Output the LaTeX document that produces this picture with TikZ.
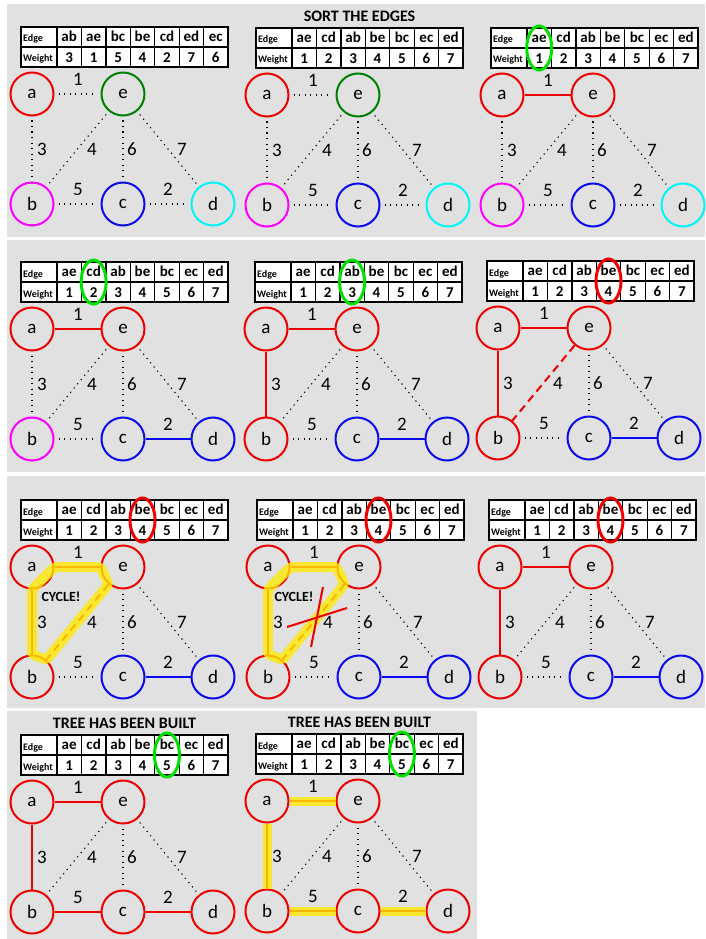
\documentclass[tikz,border=0pt]{standalone}
\usepackage{fontspec}
\setmainfont{Carlito}
\definecolor{cred}{RGB}{238,0,0}
\definecolor{cgreen}{RGB}{0,128,0}
\definecolor{cmag}{RGB}{255,0,255}
\definecolor{cblue}{RGB}{10,10,240}
\definecolor{ccyan}{RGB}{0,245,245}
\definecolor{selgreen}{RGB}{0,225,0}
\definecolor{bggray}{RGB}{225,225,225}
\definecolor{hlyel}{RGB}{255,235,0}
\newcommand{\mkgraph}[7]{%
 \begin{scope}[shift={(#2)}]
  \node[vtx,draw=#3] (#1a) at (32,94) {a};
  \node[vtx,draw=#4] (#1e) at (123,94) {e};
  \node[vtx,draw=#5] (#1b) at (32,204) {b};
  \node[vtx,draw=#6] (#1c) at (123,204) {c};
  \node[vtx,draw=#7] (#1d) at (213,204) {d};
  \node[wlbl] (#1w1) at (78,79) {1};
  \node[wlbl] (#1w3) at (42,149) {3};
  \node[wlbl] (#1w4) at (92,149) {4};
  \node[wlbl] (#1w6) at (132,149) {6};
  \node[wlbl] (#1w7) at (182,149) {7};
  \node[wlbl] (#1w5) at (78,189) {5};
  \node[wlbl] (#1w2) at (168,189) {2};
 \end{scope}}
\newcommand{\mktab}[4]{%
 \begin{scope}[shift={(#2)}]
  \fill[white] (21,27) rectangle (228,67);
  \draw[tabline] (21,27) rectangle (228,67);
  \draw[tabline] (21,47) -- (228,47);
  \foreach \i in {0,...,6} {\draw[tabline] ({57+24.43*\i},27) -- ({57+24.43*\i},67);}
  \node[tabhead] (#1h0) at (23,42) {Edge};
  \node[tabhead] (#1w0) at (23,62) {Weight};
  \foreach \e [count=\i] in {#3} {\node[tabtxt] (#1h\i) at ({57+24.43*(\i-0.5)},41.5) {\e};}
  \foreach \e [count=\i] in {#4} {\node[tabtxt] (#1w\i) at ({57+24.43*(\i-0.5)},62.5) {\e};}
 \end{scope}}
\newcommand{\dotE}[2]{\foreach \u/\v in {#2} {\draw[dotedge] (#1\u) -- (#1\v);}}
\newcommand{\selcol}[3]{%
 \begin{scope}[shift={(#1)}]
  \draw[line width=3pt,draw=#3] ({57+24.43*(#2-0.5)},47) ellipse [x radius=12.5pt, y radius=22pt];
 \end{scope}}
\newcommand{\mkcycle}[1]{%
 \draw[cycpath] (#1a.east) -- (#1e.west) -- (#1e.230) -- (#1b.50) -- (#1b.north) -- (#1a.south) -- cycle;}
\begin{document}
\begin{tikzpicture}[x=1pt,y=-1pt,
 vtx/.style={circle,line width=2pt,minimum size=43pt,inner sep=0pt,font=\fontsize{19}{19}\selectfont},
 wlbl/.style={font=\fontsize{19}{19}\selectfont,inner sep=0pt},
 dotedge/.style={line width=1.1pt,dash pattern=on 1.2pt off 4.3pt,shorten <=4pt,shorten >=4pt},
 rededge/.style={line width=2pt,draw=cred},
 blueedge/.style={line width=2pt,draw=cblue},
 dashedge/.style={line width=2pt,draw=cred,dash pattern=on 8pt off 5pt},
 tabline/.style={line width=1.3pt,draw=black},
 tabtxt/.style={font=\bfseries\fontsize{15}{15}\selectfont,inner sep=0pt,anchor=base},
 tabhead/.style={font=\bfseries\fontsize{10}{10}\selectfont,inner sep=0pt,anchor=base west},
 titletxt/.style={font=\bfseries\fontsize{16}{16}\selectfont,inner sep=0pt},
 cycpath/.style={line width=10pt,draw=hlyel,draw opacity=0.78,rounded corners=3pt,line join=round},
 hlseg/.style={line width=9pt,draw=hlyel,draw opacity=0.78},
 crossline/.style={line width=2pt,draw=cred}]
\useasboundingbox (0,0) rectangle (705,939);
\fill[white] (0,0) rectangle (705,939);
\fill[bggray] (7,4) rectangle (705,237);
\fill[bggray] (7,240) rectangle (705,472);
\fill[bggray] (7,476) rectangle (705,708);
\fill[bggray] (7,711) rectangle (477,939);
% ---------- Panel 1
\mkgraph{P1}{0,0}{cred}{cgreen}{cmag}{cblue}{ccyan}
\mktab{T1}{0,0}{ab,ae,bc,be,cd,ed,ec}{3,1,5,4,2,7,6}
\dotE{P1}{a/e,a/b,e/b,e/c,e/d,b/c,c/d}
% ---------- Panel 2
\node[titletxt] (P2t) at (359.5,16) {SORT THE EDGES};
\mkgraph{P2}{235,1}{cred}{cgreen}{cmag}{cblue}{ccyan}
\mktab{T2}{235,1}{ae,cd,ab,be,bc,ec,ed}{1,2,3,4,5,6,7}
\dotE{P2}{a/e,a/b,e/b,e/c,e/d,b/c,c/d}
% ---------- Panel 3
\mkgraph{P3}{470,1}{cred}{cred}{cmag}{cblue}{ccyan}
\mktab{T3}{470,1}{ae,cd,ab,be,bc,ec,ed}{1,2,3,4,5,6,7}
\dotE{P3}{a/b,e/b,e/c,e/d,b/c,c/d}
\draw[rededge] (P3a) -- (P3e);
\selcol{470,1}{1}{selgreen}
% ---------- Panel 4
\mkgraph{P4}{0,235}{cred}{cred}{cmag}{cblue}{cblue}
\mktab{T4}{0,235}{ae,cd,ab,be,bc,ec,ed}{1,2,3,4,5,6,7}
\dotE{P4}{a/b,e/b,e/c,e/d,b/c}
\draw[rededge] (P4a) -- (P4e);
\draw[blueedge] (P4c) -- (P4d);
\selcol{0,235}{2}{selgreen}
% ---------- Panel 5
\mkgraph{P5}{234,235}{cred}{cred}{cred}{cblue}{cblue}
\mktab{T5}{234,235}{ae,cd,ab,be,bc,ec,ed}{1,2,3,4,5,6,7}
\dotE{P5}{e/b,e/c,e/d,b/c}
\draw[rededge] (P5a) -- (P5e);
\draw[rededge] (P5a) -- (P5b);
\draw[blueedge] (P5c) -- (P5d);
\selcol{234,235}{3}{selgreen}
% ---------- Panel 6
\mkgraph{P6}{466,234}{cred}{cred}{cred}{cblue}{cblue}
\mktab{T6}{466,234}{ae,cd,ab,be,bc,ec,ed}{1,2,3,4,5,6,7}
\dotE{P6}{e/c,e/d,b/c}
\draw[rededge] (P6a) -- (P6e);
\draw[rededge] (P6a) -- (P6b);
\draw[dashedge] (P6e) -- (P6b);
\draw[blueedge] (P6c) -- (P6d);
\selcol{466,234}{4}{cred}
% ---------- Panel 7
\mkgraph{P7}{0,473}{cred}{cred}{cred}{cblue}{cblue}
\mktab{T7}{0,473}{ae,cd,ab,be,bc,ec,ed}{1,2,3,4,5,6,7}
\dotE{P7}{e/c,e/d,b/c}
\draw[rededge] (P7a) -- (P7e);
\draw[rededge] (P7a) -- (P7b);
\draw[dashedge] (P7e) -- (P7b);
\draw[blueedge] (P7c) -- (P7d);
\mkcycle{P7}
\node[font=\bfseries\fontsize{14}{14}\selectfont,inner sep=0pt] (P7cy) at (61,597) {CYCLE!};
\selcol{0,473}{4}{cred}
% ---------- Panel 8
\mkgraph{P8}{236,473}{cred}{cred}{cred}{cblue}{cblue}
\mktab{T8}{236,473}{ae,cd,ab,be,bc,ec,ed}{1,2,3,4,5,6,7}
\dotE{P8}{e/c,e/d,b/c}
\draw[rededge] (P8a) -- (P8e);
\draw[rededge] (P8a) -- (P8b);
\draw[dashedge] (P8e) -- (P8b);
\draw[blueedge] (P8c) -- (P8d);
\mkcycle{P8}
\node[font=\bfseries\fontsize{14}{14}\selectfont,inner sep=0pt] (P8cy) at (294,597) {CYCLE!};
\coordinate (X1s) at (287,627); \coordinate (X1e) at (347,608);
\coordinate (X2s) at (323,587); \coordinate (X2e) at (311,647);
\draw[crossline] (X1s) -- (X1e);
\draw[crossline] (X2s) -- (X2e);
\selcol{236,473}{4}{cred}
% ---------- Panel 9
\mkgraph{P9}{468,473}{cred}{cred}{cred}{cblue}{cblue}
\mktab{T9}{468,473}{ae,cd,ab,be,bc,ec,ed}{1,2,3,4,5,6,7}
\dotE{P9}{e/b,e/c,e/d,b/c}
\draw[rededge] (P9a) -- (P9e);
\draw[rededge] (P9a) -- (P9b);
\draw[blueedge] (P9c) -- (P9d);
\selcol{468,473}{4}{cred}
% ---------- Panel 10
\node[titletxt] (P10t) at (124.5,723) {TREE HAS BEEN BUILT};
\mkgraph{P10}{0,708}{cred}{cred}{cred}{cred}{cred}
\mktab{T10}{0,708}{ae,cd,ab,be,bc,ec,ed}{1,2,3,4,5,6,7}
\dotE{P10}{e/b,e/c,e/d}
\draw[rededge] (P10a) -- (P10e);
\draw[rededge] (P10a) -- (P10b);
\draw[rededge] (P10b) -- (P10c);
\draw[rededge] (P10c) -- (P10d);
\selcol{0,708}{5}{selgreen}
% ---------- Panel 11
\node[titletxt] (P11t) at (359.5,722) {TREE HAS BEEN BUILT};
\mkgraph{P11}{235,707}{cred}{cred}{cred}{cred}{cred}
\mktab{T11}{235,707}{ae,cd,ab,be,bc,ec,ed}{1,2,3,4,5,6,7}
\dotE{P11}{e/b,e/c,e/d}
\foreach \u/\v in {a/e,a/b,b/c,c/d} {
  \draw[rededge] (P11\u) -- (P11\v);
  \draw[hlseg] (P11\u) -- (P11\v);
}
\selcol{235,707}{5}{selgreen}
\end{tikzpicture}
\end{document}
